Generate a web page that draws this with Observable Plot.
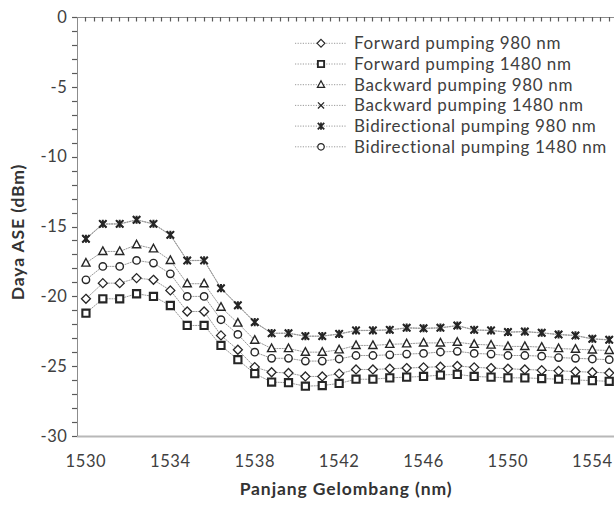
<!DOCTYPE html>
<html>
<head>
<meta charset="utf-8">
<script src="https://cdn.jsdelivr.net/npm/d3@7"></script>
<script src="https://cdn.jsdelivr.net/npm/@observablehq/plot@0.6"></script>
<style>
  html, body { margin: 0; padding: 0; background: #fff; }
  #chart { position: relative; width: 614px; height: 507px; }
</style>
</head>
<body>
<div id="chart"></div>
<script>
// ---- data ----
const wavelength = [1530, 1530.8, 1531.6, 1532.4, 1533.2, 1534, 1534.8, 1535.6, 1536.4, 1537.2,
  1538, 1538.8, 1539.6, 1540.4, 1541.2, 1542, 1542.8, 1543.6, 1544.4, 1545.2,
  1546, 1546.8, 1547.6, 1548.4, 1549.2, 1550, 1550.8, 1551.6, 1552.4, 1553.2, 1554, 1554.8];

const forward980 = [-20.14, -19.02, -19.02, -18.66, -18.78, -19.54, -21.05, -21.05, -22.76, -23.79,
  -25.03, -25.4, -25.45, -25.7, -25.7, -25.5, -25.2, -25.2, -25.15, -25.1,
  -25.05, -25.0, -24.95, -25.05, -25.1, -25.15, -25.2, -25.25, -25.3, -25.35, -25.4, -25.45];
const forward1480 = [-21.17, -20.14, -20.14, -19.78, -19.97, -20.62, -22.05, -22.05, -23.48, -24.5,
  -25.5, -26.1, -26.15, -26.4, -26.35, -26.2, -25.9, -25.9, -25.8, -25.75,
  -25.7, -25.6, -25.55, -25.7, -25.75, -25.8, -25.8, -25.85, -25.9, -25.95, -26.0, -26.05];
const backward980 = [-17.58, -16.75, -16.75, -16.27, -16.56, -17.39, -19.06, -19.06, -20.74, -21.88,
  -23.1, -23.7, -23.7, -23.96, -23.96, -23.79, -23.48, -23.48, -23.4, -23.36,
  -23.3, -23.3, -23.25, -23.4, -23.45, -23.55, -23.55, -23.6, -23.7, -23.75, -23.8, -23.84];
const backward1480 = [-15.86, -14.8, -14.79, -14.5, -14.79, -15.58, -17.41, -17.4, -19.4, -20.62,
  -21.83, -22.62, -22.61, -22.83, -22.82, -22.67, -22.42, -22.41, -22.38, -22.23,
  -22.27, -22.23, -22.07, -22.38, -22.42, -22.54, -22.5, -22.59, -22.71, -22.78, -23.02, -23.09];
const bidirectional980 = [-15.84, -14.77, -14.77, -14.48, -14.77, -15.56, -17.39, -17.39, -19.38, -20.6,
  -21.81, -22.6, -22.6, -22.81, -22.81, -22.65, -22.4, -22.4, -22.36, -22.21,
  -22.25, -22.21, -22.05, -22.36, -22.4, -22.52, -22.48, -22.57, -22.69, -22.76, -23.0, -23.07];
const bidirectional1480 = [-18.78, -17.82, -17.82, -17.39, -17.58, -18.35, -19.97, -19.97, -21.64, -22.69,
  -23.96, -24.4, -24.4, -24.6, -24.6, -24.45, -24.2, -24.2, -24.15, -24.1,
  -24.05, -23.95, -23.9, -24.05, -24.1, -24.2, -24.2, -24.25, -24.35, -24.4, -24.45, -24.5];

const seriesNames = ["Forward pumping 980 nm", "Forward pumping 1480 nm", "Backward pumping 980 nm",
  "Backward pumping 1480 nm", "Bidirectional pumping 980 nm", "Bidirectional pumping 1480 nm"];
const seriesValues = [forward980, forward1480, backward980, backward1480, bidirectional980, bidirectional1480];
const xTickLabels = [1530, 1534, 1538, 1542, 1546, 1550, 1554];
const yTickLabels = [0, -5, -10, -15, -20, -25, -30];
const xDomain = [1529.6, 1555.05];
const yDomain = [-30, 0];

// ---- marker shapes ----
function rad(size) { return Math.sqrt(size / Math.PI); }
const shapes = {
  diamond: { draw(c, s) { const r = rad(s) * 1.15; c.moveTo(0, -r); c.lineTo(r, 0); c.lineTo(0, r); c.lineTo(-r, 0); c.closePath(); } },
  square: { draw(c, s) { const r = rad(s) * 0.92; c.rect(-r, -r, 2 * r, 2 * r); } },
  triangle: { draw(c, s) { const r = rad(s) * 1.05; c.moveTo(0, -r * 1.1); c.lineTo(r, r * 0.75); c.lineTo(-r, r * 0.75); c.closePath(); } },
  times: { draw(c, s) { const r = rad(s) * 0.9; c.moveTo(-r, -r); c.lineTo(r, r); c.moveTo(-r, r); c.lineTo(r, -r); } },
  star: { draw(c, s) { const r = rad(s) * 0.95; c.moveTo(-r, -r); c.lineTo(r, r); c.moveTo(-r, r); c.lineTo(r, -r); c.moveTo(0, -r * 1.1); c.lineTo(0, r * 1.1); } },
  circle: { draw(c, s) { const r = rad(s) * 0.95; c.moveTo(r, 0); c.arc(0, 0, r, 0, 2 * Math.PI); } }
};
const seriesShapes = [shapes.diamond, shapes.square, shapes.triangle, shapes.times, shapes.star, shapes.circle];
const seriesStrokeW = [1.3, 2.1, 1.4, 1.4, 2.0, 1.4];

// tidy table
const table = [];
seriesNames.forEach((name, s) => {
  seriesValues[s].forEach((v, i) => table.push({ series: name, s, wl: wavelength[i], v }));
});

// draw order: × under the star
const drawOrder = [0, 1, 2, 5, 3, 4];
const lineMarks = drawOrder.map(s => Plot.line(table.filter(d => d.s === s), {
  x: "wl", y: "v", stroke: "#9a9a9a", strokeWidth: 1, strokeDasharray: "1.2 1.4"
}));
const dotMarks = drawOrder.map(s => Plot.dot(table.filter(d => d.s === s), {
  x: "wl", y: "v", symbol: seriesShapes[s], r: 3.9, stroke: "#262626",
  strokeWidth: seriesStrokeW[s], fill: "white"
}));

const topTicks = d3.range(0, 63).map(k => 1530 + 0.4 * k);
const minorY = d3.range(-30, 1, 1);

const W = 614, H = 507, ML = 77, MR = 0, MT = 17, MB = 71;

const plot = Plot.plot({
  width: W,
  height: H,
  marginLeft: ML,
  marginRight: MR,
  marginTop: MT,
  marginBottom: MB,
  x: { domain: xDomain },
  y: { domain: yDomain },
  style: { fontFamily: "Lato, 'Open Sans', sans-serif", fontSize: "17px", color: "#404040", background: "white" },
  marks: [
    Plot.ruleY([yDomain[0]], { stroke: "#b8b8b8", strokeWidth: 2 }),
    Plot.ruleY([yDomain[1]], { stroke: "#8c8c8c", strokeWidth: 1 }),
    Plot.ruleX([xDomain[0]], { stroke: "#8c8c8c", strokeWidth: 1 }),
    Plot.axisY({ ticks: yTickLabels, tickSize: 0, tickPadding: 10, tickFormat: d => String(d), label: null, fontSize: 16.5, fill: "#404040" }),
    Plot.axisX({ ticks: xTickLabels, tickSize: 0, tickPadding: 19, tickFormat: d => String(d), label: null, fontSize: 16.5, fill: "#404040" }),
    Plot.text(["Panjang Gelombang (nm)"], { frameAnchor: "bottom", textAnchor: "middle", dy: 58, fontWeight: "bold", fontSize: 17.5, fill: "#333" }),
    Plot.text(["Daya ASE (dBm)"], { frameAnchor: "left", textAnchor: "middle", dx: -59, dy: 5, rotate: -90, fontWeight: "bold", fontSize: 17.5, fill: "#333" }),
    ...lineMarks,
    ...dotMarks
  ]
});

document.getElementById("chart").appendChild(plot);

const svgNode = plot.tagName && plot.tagName.toLowerCase() === "svg" ? plot : plot.querySelector("svg");
const svg = d3.select(svgNode);

// positions from the chart's scales (with a same-domain fallback)
const sx = plot.scale("x"), sy = plot.scale("y");
const fbX = d3.scaleLinear(xDomain, [ML, W - MR]);
const fbY = d3.scaleLinear(yDomain, [H - MB, MT]);
const px = v => { const r = (sx && typeof sx.apply === "function") ? sx.apply(v) : NaN; return Number.isFinite(r) ? r : fbX(v); };
const py = v => { const r = (sy && typeof sy.apply === "function") ? sy.apply(v) : NaN; return Number.isFinite(r) ? r : fbY(v); };

// letter spacing for axis texts (Excel-like wide rendering)
svg.selectAll("g[aria-label='y-axis tick label'] text, g[aria-label='x-axis tick label'] text")
  .attr("letter-spacing", "0.6px");
svg.selectAll("g[aria-label='text'] text").attr("letter-spacing", "0.9px");

// axis tick marks
const tickG = svg.append("g").attr("class", "excel-ticks");
const yTop = py(yDomain[1]);
topTicks.forEach(t => {
  const x = Math.round(px(t)) + 0.5;
  tickG.append("line").attr("x1", x).attr("x2", x).attr("y1", yTop).attr("y2", yTop + 4.5)
    .attr("stroke", "#5a5a5a").attr("stroke-width", 1.2);
});
const xLeft = px(xDomain[0]);
minorY.forEach(v => {
  const y = Math.round(py(v)) + 0.5;
  tickG.append("line").attr("x1", xLeft - 5).attr("x2", xLeft).attr("y1", y).attr("y2", y)
    .attr("stroke", "#5a5a5a").attr("stroke-width", 1.2);
});

// ---- legend (inside the plot area, top right) ----
const lg = svg.append("g").attr("font-family", "Lato, 'Open Sans', sans-serif").attr("font-size", 17)
  .attr("text-anchor", "start");
seriesNames.forEach((name, s) => {
  const y = 43.3 + 20.7 * s;
  const row = lg.append("g").attr("transform", `translate(0,${y})`);
  row.append("line").attr("x1", 295).attr("x2", 347).attr("y1", 0).attr("y2", 0)
    .attr("stroke", "#9a9a9a").attr("stroke-dasharray", "1.2 1.4");
  row.append("path").attr("d", d3.symbol(seriesShapes[s], Math.PI * 3.4 * 3.4)())
    .attr("transform", "translate(321,0)").attr("fill", "white").attr("stroke", "#262626")
    .attr("stroke-width", seriesStrokeW[s] * 0.9);
  row.append("text").attr("x", 354).attr("y", 0).attr("dy", "0.35em")
    .attr("text-anchor", "start")
    .attr("fill", "#404040").attr("letter-spacing", "0.65px").text(name);
});
</script>
</body>
</html>
